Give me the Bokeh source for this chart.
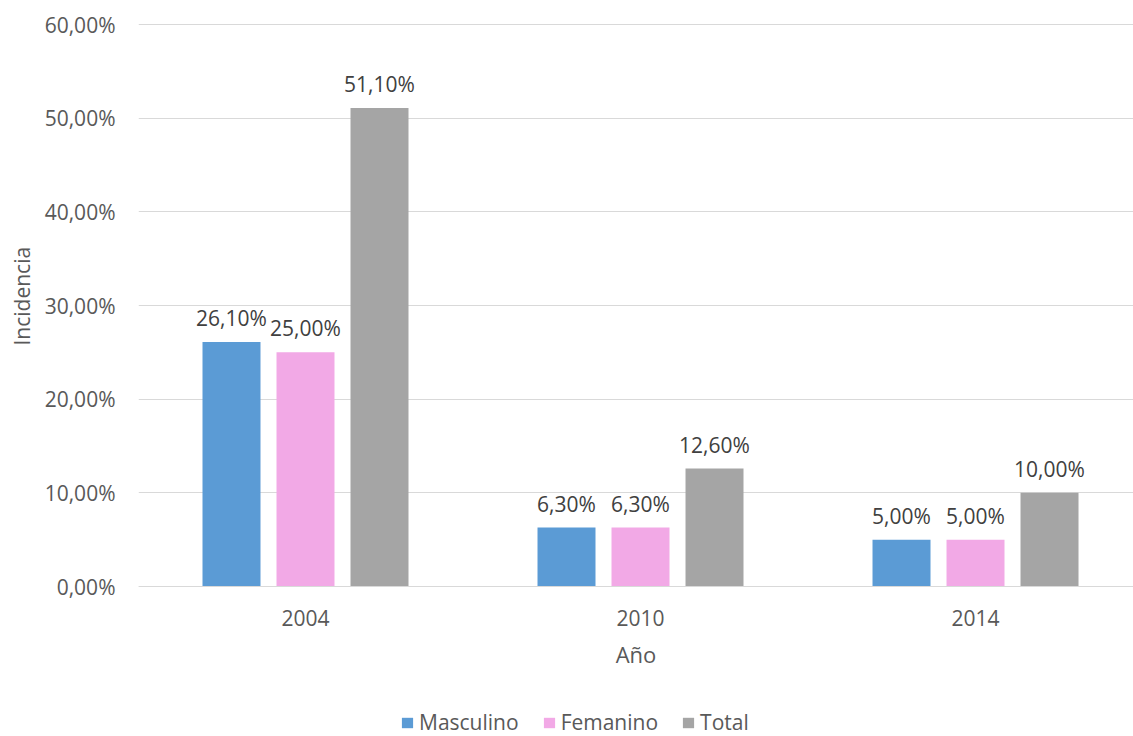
from bokeh.plotting import figure
from bokeh.models import ColumnDataSource, FixedTicker, LabelSet, Legend, LegendItem, Range1d, Title
from bokeh.transform import dodge
from bokeh.core.properties import value
from bokeh.embed import file_html
from bokeh.resources import INLINE

years = ["2004", "2010", "2014"]
series = ["Masculino", "Femanino", "Total"]
masculino = [26.1, 6.3, 5.0]
femanino = [25.0, 6.3, 5.0]
total = [51.1, 12.6, 10.0]
y_ticks = [0, 10, 20, 30, 40, 50, 60]
colors = ["#5B9BD5", "#F2A9E6", "#A5A5A5"]

FONT = "Open Sans"
FS = "21px"


def pct(v):
    return f"{v:.2f}%".replace(".", ",")


xs = list(range(len(years)))
src = ColumnDataSource(dict(
    x=xs,
    masculino=masculino,
    femanino=femanino,
    total=total,
    l_m=[pct(v) for v in masculino],
    l_f=[pct(v) for v in femanino],
    l_t=[pct(v) for v in total],
))

p = figure(width=1133, height=736, output_backend="svg", toolbar_location=None,
           x_range=Range1d(-0.4985, 2.4716), y_range=Range1d(-16.01, 61.07),
           min_border_left=138, min_border_right=0, min_border_top=14, min_border_bottom=0)
p.outline_line_color = None
p.background_fill_color = "white"
p.border_fill_color = "white"

offsets = [-0.2209, 0.0, 0.2209]
cols = ["masculino", "femanino", "total"]
lcols = ["l_m", "l_f", "l_t"]
renderers = []
for off, col, lc, c in zip(offsets, cols, lcols, colors):
    r = p.vbar(x=dodge("x", off), top=col, width=0.1731, bottom=0, source=src,
               fill_color=c, line_color=None)
    renderers.append(r)
    labels = LabelSet(x=dodge("x", off), y=col, text=lc, source=src,
                      text_align="center", text_baseline="alphabetic", y_offset=16,
                      text_font=value(FONT), text_font_size=FS, text_color="#404040")
    p.add_layout(labels)

# x axis drawn at y = 0 inside the frame
p.xaxis.fixed_location = 0
p.xaxis.ticker = FixedTicker(ticks=xs)
p.xaxis.major_label_overrides = {i: y for i, y in enumerate(years)}
p.xaxis.axis_label = "Año"
p.xaxis.axis_line_color = "#D9D9D9"
p.xaxis.major_tick_line_color = None
p.xaxis.minor_tick_line_color = None
p.xaxis.major_tick_out = 0
p.xaxis.major_label_standoff = 23
p.xaxis.axis_label_standoff = 10

p.yaxis.ticker = FixedTicker(ticks=y_ticks)
p.yaxis.major_label_overrides = {t: pct(t) for t in y_ticks}
p.yaxis.axis_line_color = None
p.yaxis.major_tick_line_color = None
p.yaxis.minor_tick_line_color = None
p.yaxis.major_tick_out = 0
p.yaxis.major_label_standoff = 23

for ax in (p.xaxis, p.yaxis):
    ax.major_label_text_font = FONT
    ax.major_label_text_font_size = FS
    ax.major_label_text_color = "#595959"
    ax.axis_label_text_font = FONT
    ax.axis_label_text_font_style = "normal"
    ax.axis_label_text_color = "#595959"
p.xaxis.axis_label_text_font_size = "22px"

# y axis title, placed alongside the 0-60 % span
ytitle = Title(text="Incidencia", align="left", offset=391, standoff=11,
               text_font=FONT, text_font_size=FS, text_font_style="normal",
               text_color="#595959")
p.add_layout(ytitle, "left")

p.xgrid.grid_line_color = None
p.ygrid.grid_line_color = "#D9D9D9"
p.ygrid.grid_line_width = 1

legend = Legend(items=[LegendItem(label=s, renderers=[r]) for s, r in zip(series, renderers)],
                orientation="horizontal", location=(262, 0),
                label_text_font=FONT, label_text_font_size=FS, label_text_color="#595959",
                glyph_width=14, glyph_height=13, label_standoff=5, spacing=23,
                padding=0, margin=0, border_line_color=None, background_fill_alpha=0)
p.add_layout(legend, "center")

open("out.html", "w").write(file_html(p, INLINE))
